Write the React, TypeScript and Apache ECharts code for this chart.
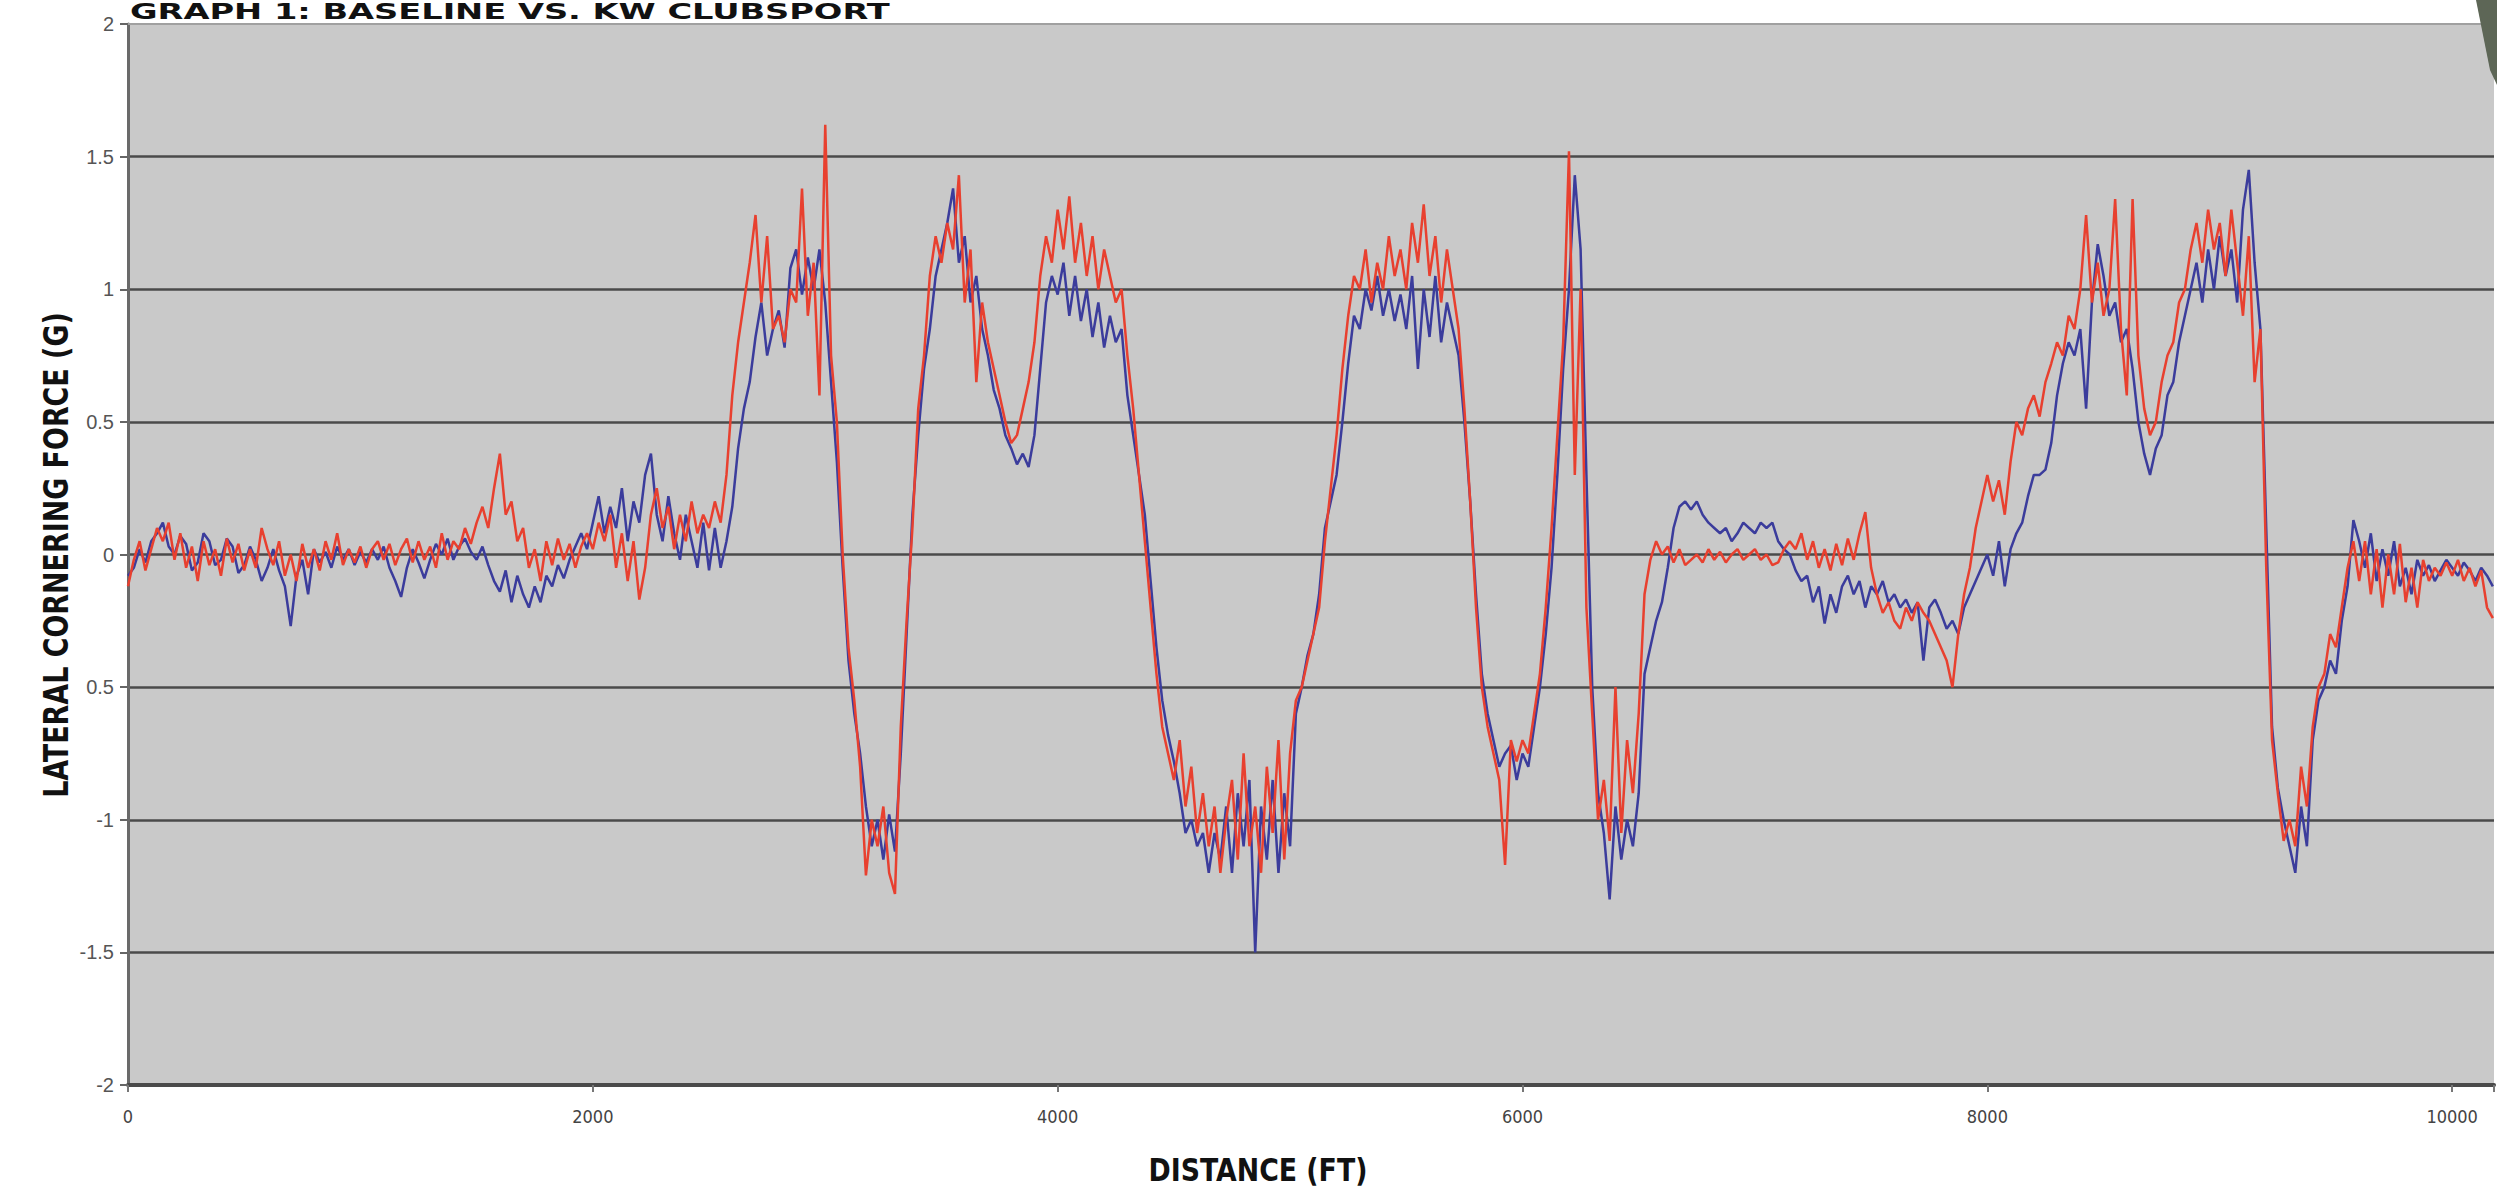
import React, { useEffect, useRef } from "react";
import * as echarts from "echarts";

// Sampling step of the two traces (ft)
const STEP = 25;

// Baseline (blue) lateral g, every 25 ft from 0 ft
const baseline: number[] = [
  // 0 - 975
  -0.08, -0.05, 0.02, -0.03, 0.05, 0.08, 0.12, 0.03, 0.0, 0.07,
  0.04, -0.06, -0.03, 0.08, 0.05, -0.04, -0.02, 0.06, 0.03, -0.07,
  -0.04, 0.03, -0.02, -0.1, -0.05, 0.02, -0.06, -0.12, -0.27, -0.08,
  -0.02, -0.15, 0.02, -0.03, 0.01, -0.05, 0.03, -0.02, 0.02, -0.04,
  // 1000 - 1975
  0.01, -0.03, 0.02, -0.02, 0.03, -0.05, -0.1, -0.16, -0.05, 0.02,
  -0.03, -0.09, -0.02, 0.04, 0.0, 0.06, -0.02, 0.03, 0.06, 0.01,
  -0.02, 0.03, -0.04, -0.1, -0.14, -0.06, -0.18, -0.08, -0.15, -0.2,
  -0.12, -0.18, -0.08, -0.12, -0.04, -0.09, -0.02, 0.03, 0.08, 0.02,
  // 2000 - 2975
  0.12, 0.22, 0.08, 0.18, 0.1, 0.25, 0.05, 0.2, 0.12, 0.3,
  0.38, 0.15, 0.05, 0.22, 0.08, -0.02, 0.15, 0.05, -0.05, 0.12,
  -0.06, 0.1, -0.05, 0.05, 0.18, 0.4, 0.55, 0.65, 0.82, 0.95,
  0.75, 0.85, 0.92, 0.78, 1.08, 1.15, 0.98, 1.12, 1.0, 1.15,
  // 3000 - 3975
  0.95, 0.65, 0.35, -0.05, -0.4, -0.6, -0.75, -0.95, -1.1, -1.0,
  -1.15, -0.98, -1.12, -0.75, -0.3, 0.15, 0.45, 0.7, 0.85, 1.05,
  1.15, 1.25, 1.38, 1.1, 1.2, 0.95, 1.05, 0.85, 0.75, 0.62,
  0.55, 0.45, 0.4, 0.34, 0.38, 0.33, 0.45, 0.7, 0.95, 1.05,
  // 4000 - 4975
  0.98, 1.1, 0.9, 1.05, 0.88, 1.0, 0.82, 0.95, 0.78, 0.9,
  0.8, 0.85, 0.6, 0.45, 0.3, 0.15, -0.1, -0.35, -0.55, -0.68,
  -0.78, -0.9, -1.05, -1.0, -1.1, -1.05, -1.2, -1.05, -1.15, -0.95,
  -1.2, -0.9, -1.1, -0.85, -1.5, -0.95, -1.15, -0.85, -1.2, -0.9,
  // 5000 - 5975
  -1.1, -0.6, -0.5, -0.38, -0.3, -0.15, 0.1, 0.2, 0.3, 0.5,
  0.72, 0.9, 0.85, 1.0, 0.92, 1.05, 0.9, 1.0, 0.88, 0.98,
  0.85, 1.05, 0.7, 1.0, 0.82, 1.05, 0.8, 0.95, 0.85, 0.75,
  0.5, 0.2, -0.15, -0.45, -0.6, -0.7, -0.8, -0.75, -0.72, -0.85,
  // 6000 - 6975
  -0.75, -0.8, -0.65, -0.5, -0.3, -0.05, 0.3, 0.7, 1.0, 1.43,
  1.15, 0.3, -0.5, -0.9, -1.05, -1.3, -0.95, -1.15, -1.0, -1.1,
  -0.9, -0.45, -0.35, -0.25, -0.18, -0.05, 0.1, 0.18, 0.2, 0.17,
  0.2, 0.15, 0.12, 0.1, 0.08, 0.1, 0.05, 0.08, 0.12, 0.1,
  // 7000 - 7975
  0.08, 0.12, 0.1, 0.12, 0.05, 0.02, 0.0, -0.06, -0.1, -0.08,
  -0.18, -0.12, -0.26, -0.15, -0.22, -0.12, -0.08, -0.15, -0.1, -0.2,
  -0.12, -0.15, -0.1, -0.18, -0.15, -0.2, -0.17, -0.22, -0.18, -0.4,
  -0.2, -0.17, -0.22, -0.28, -0.25, -0.3, -0.2, -0.15, -0.1, -0.05,
  // 8000 - 8975
  0.0, -0.08, 0.05, -0.12, 0.02, 0.08, 0.12, 0.22, 0.3, 0.3,
  0.32, 0.42, 0.6, 0.72, 0.8, 0.75, 0.85, 0.55, 0.95, 1.17,
  1.05, 0.9, 0.95, 0.8, 0.85, 0.7, 0.5, 0.38, 0.3, 0.4,
  0.45, 0.6, 0.65, 0.8, 0.9, 1.0, 1.1, 0.95, 1.15, 1.0,
  // 9000 - 9975
  1.2, 1.05, 1.15, 0.95, 1.3, 1.45, 1.1, 0.85, 0.1, -0.65,
  -0.88, -1.0, -1.1, -1.2, -0.95, -1.1, -0.7, -0.55, -0.5, -0.4,
  -0.45, -0.25, -0.12, 0.13, 0.05, -0.05, 0.08, -0.1, 0.02, -0.08,
  0.05, -0.12, -0.05, -0.15, -0.02, -0.08, -0.04, -0.1, -0.06, -0.02,
  // 10000 - 10175
  -0.05, -0.08, -0.03, -0.06, -0.1, -0.05, -0.08, -0.12,
];

// KW Clubsport (red) lateral g, every 25 ft from 0 ft
const clubsport: number[] = [
  // 0 - 975
  -0.12, -0.02, 0.05, -0.06, 0.02, 0.1, 0.05, 0.12, -0.02, 0.08,
  -0.05, 0.03, -0.1, 0.05, -0.04, 0.02, -0.08, 0.06, -0.03, 0.04,
  -0.06, 0.02, -0.05, 0.1, 0.02, -0.04, 0.05, -0.08, 0.0, -0.1,
  0.04, -0.05, 0.02, -0.06, 0.05, -0.02, 0.08, -0.04, 0.02, -0.03,
  // 1000 - 1975
  0.03, -0.05, 0.02, 0.05, -0.02, 0.04, -0.04, 0.02, 0.06, -0.03,
  0.05, -0.02, 0.03, -0.05, 0.08, -0.02, 0.05, 0.02, 0.1, 0.04,
  0.12, 0.18, 0.1, 0.25, 0.38, 0.15, 0.2, 0.05, 0.1, -0.05,
  0.02, -0.1, 0.05, -0.04, 0.06, -0.02, 0.04, -0.05, 0.03, 0.08,
  // 2000 - 2975
  0.02, 0.12, 0.05, 0.15, -0.05, 0.08, -0.1, 0.05, -0.17, -0.05,
  0.15, 0.25, 0.1, 0.18, 0.02, 0.15, 0.05, 0.2, 0.08, 0.15,
  0.1, 0.2, 0.12, 0.3, 0.6, 0.8, 0.95, 1.1, 1.28, 0.95,
  1.2, 0.85, 0.9, 0.8, 1.0, 0.95, 1.38, 0.9, 1.1, 0.6,
  // 3000 - 3975
  1.62, 0.75, 0.5, 0.0, -0.35, -0.55, -0.8, -1.21, -1.0, -1.1,
  -0.95, -1.2, -1.28, -0.65, -0.25, 0.1, 0.55, 0.75, 1.05, 1.2,
  1.1, 1.25, 1.15, 1.43, 0.95, 1.15, 0.65, 0.95, 0.8, 0.7,
  0.6, 0.5, 0.42, 0.45, 0.55, 0.65, 0.8, 1.05, 1.2, 1.1,
  // 4000 - 4975
  1.3, 1.15, 1.35, 1.1, 1.25, 1.05, 1.2, 1.0, 1.15, 1.05,
  0.95, 1.0, 0.75, 0.55, 0.3, 0.05, -0.2, -0.45, -0.65, -0.75,
  -0.85, -0.7, -0.95, -0.8, -1.05, -0.9, -1.1, -0.95, -1.2, -1.0,
  -0.85, -1.15, -0.75, -1.1, -0.95, -1.2, -0.8, -1.05, -0.7, -1.15,
  // 5000 - 5975
  -0.75, -0.55, -0.5, -0.4, -0.3, -0.2, 0.05, 0.25, 0.45, 0.7,
  0.9, 1.05, 1.0, 1.15, 0.95, 1.1, 1.0, 1.2, 1.05, 1.15,
  1.0, 1.25, 1.1, 1.32, 1.05, 1.2, 0.95, 1.15, 1.0, 0.85,
  0.55, 0.2, -0.2, -0.5, -0.65, -0.75, -0.85, -1.17, -0.7, -0.78,
  // 6000 - 6975
  -0.7, -0.75, -0.6, -0.45, -0.2, 0.1, 0.45, 0.8, 1.52, 0.3,
  1.0, -0.2, -0.6, -1.0, -0.85, -1.08, -0.5, -1.05, -0.7, -0.9,
  -0.6, -0.15, -0.02, 0.05, 0.0, 0.03, -0.03, 0.02, -0.04, -0.02,
  0.0, -0.03, 0.02, -0.02, 0.01, -0.03, 0.0, 0.02, -0.02, 0.0,
  // 7000 - 7975
  0.02, -0.02, 0.0, -0.04, -0.03, 0.02, 0.05, 0.02, 0.08, -0.02,
  0.05, -0.05, 0.02, -0.06, 0.04, -0.04, 0.06, -0.02, 0.08, 0.16,
  -0.05, -0.15, -0.22, -0.18, -0.25, -0.28, -0.2, -0.25, -0.18, -0.22,
  -0.25, -0.3, -0.35, -0.4, -0.5, -0.3, -0.15, -0.05, 0.1, 0.2,
  // 8000 - 8975
  0.3, 0.2, 0.28, 0.15, 0.35, 0.5, 0.45, 0.55, 0.6, 0.52,
  0.65, 0.72, 0.8, 0.75, 0.9, 0.85, 1.0, 1.28, 0.95, 1.1,
  0.9, 1.0, 1.34, 0.85, 0.6, 1.34, 0.75, 0.55, 0.45, 0.5,
  0.65, 0.75, 0.8, 0.95, 1.0, 1.15, 1.25, 1.1, 1.3, 1.15,
  // 9000 - 9975
  1.25, 1.05, 1.3, 1.1, 0.9, 1.2, 0.65, 0.85, -0.05, -0.7,
  -0.9, -1.08, -1.0, -1.1, -0.8, -0.95, -0.65, -0.5, -0.45, -0.3,
  -0.35, -0.2, -0.05, 0.05, -0.1, 0.05, -0.15, 0.02, -0.2, 0.0,
  -0.15, 0.04, -0.18, -0.05, -0.2, -0.02, -0.1, -0.05, -0.08, -0.03,
  // 10000 - 10175
  -0.08, -0.02, -0.1, -0.05, -0.12, -0.06, -0.2, -0.24,
];

const X_TICKS = [0, 2000, 4000, 6000, 8000, 10000];
const TITLE = "GRAPH 1: BASELINE VS. KW CLUBSPORT";
const X_NAME = "DISTANCE (FT)";
const Y_NAME = "LATERAL CORNERING FORCE (G)";

const HEAD_FONT =
  "'Liberation Sans Narrow', 'DejaVu Sans Condensed', 'DejaVu Sans', sans-serif";

export default function App() {
  const ref = useRef<HTMLDivElement>(null);

  useEffect(() => {
    if (!ref.current) return;
    const chart = echarts.init(ref.current, null, { renderer: "svg" });

    const bluePts = baseline.map((v, i) => [i * STEP, v]);
    const redPts = clubsport.map((v, i) => [i * STEP, v]);

    chart.setOption({
      animation: false,
      backgroundColor: "#ffffff",
      grid: {
        left: 128,
        top: 24,
        right: 0,
        bottom: 106,
        show: true,
        backgroundColor: "#c9c9c9",
        borderWidth: 0,
      },
      xAxis: {
        type: "value",
        min: 0,
        max: 10180,
        interval: 2000,
        axisLine: { show: true, onZero: false, lineStyle: { color: "#4a4a4a", width: 4 } },
        axisTick: { show: true, length: 7, lineStyle: { color: "#777777", width: 2 } },
        axisLabel: {
          color: "#444444",
          fontSize: 18,
          fontFamily: "'Liberation Sans Narrow', 'DejaVu Sans Condensed', 'Liberation Sans', sans-serif",
          margin: 22,
          formatter: (v: number) => (X_TICKS.includes(v) ? String(v) : ""),
        },
        splitLine: { show: false },
      },
      yAxis: {
        type: "value",
        min: -2,
        max: 2,
        interval: 0.5,
        axisLine: { show: true, lineStyle: { color: "#6a6a6a", width: 3 } },
        axisTick: { show: true, length: 8, lineStyle: { color: "#666666", width: 2 } },
        axisLabel: {
          color: "#555555",
          fontSize: 20,
          fontFamily: "'Liberation Sans', Arial, sans-serif",
          margin: 14,
          formatter: (v: number) => (v === -0.5 ? "0.5" : String(v)),
        },
        splitLine: {
          show: true,
          showMaxLine: false,
          lineStyle: { color: "#4a4a4a", width: 2.5 },
        },
      },
      series: [
        {
          name: "Baseline",
          type: "line",
          data: bluePts,
          showSymbol: false,
          symbol: "none",
          lineStyle: { color: "#3b3c9c", width: 2.5 },
          z: 2,
          markLine: {
            silent: true,
            symbol: "none",
            label: { show: false },
            lineStyle: { color: "#a0a0a0", width: 2, type: "solid" },
            data: [{ yAxis: 2 }],
          },
        },
        {
          name: "KW Clubsport",
          type: "line",
          data: redPts,
          showSymbol: false,
          symbol: "none",
          lineStyle: { color: "#e8402f", width: 2.5 },
          z: 3,
        },
      ],
      graphic: [
        {
          type: "text",
          x: 130,
          y: 1,
          scaleX: 1.78,
          style: {
            text: TITLE,
            fill: "#111111",
            font: `bold 21px ${HEAD_FONT}`,
            align: "left",
            verticalAlign: "top",
          },
        },
        {
          type: "text",
          x: 56,
          y: 555,
          rotation: Math.PI / 2,
          scaleX: 0.88,
          style: {
            text: Y_NAME,
            fill: "#111111",
            font: `bold 34px ${HEAD_FONT}`,
            align: "center",
            verticalAlign: "middle",
          },
        },
        {
          type: "text",
          x: 1258,
          y: 1170,
          scaleX: 0.93,
          style: {
            text: X_NAME,
            fill: "#111111",
            font: `bold 32px ${HEAD_FONT}`,
            align: "center",
            verticalAlign: "middle",
          },
        },
        {
          type: "polygon",
          shape: {
            points: [
              [2476, 0],
              [2497, 0],
              [2497, 85],
              [2490, 70],
            ],
          },
          style: { fill: "#5d6656" },
          z: 100,
        },
      ],
    });

    return () => chart.dispose();
  }, []);

  return (
    <div
      ref={ref}
      style={{
        position: "absolute",
        left: 0,
        top: 0,
        width: 2497,
        height: 1191,
        background: "#ffffff",
      }}
    />
  );
}
